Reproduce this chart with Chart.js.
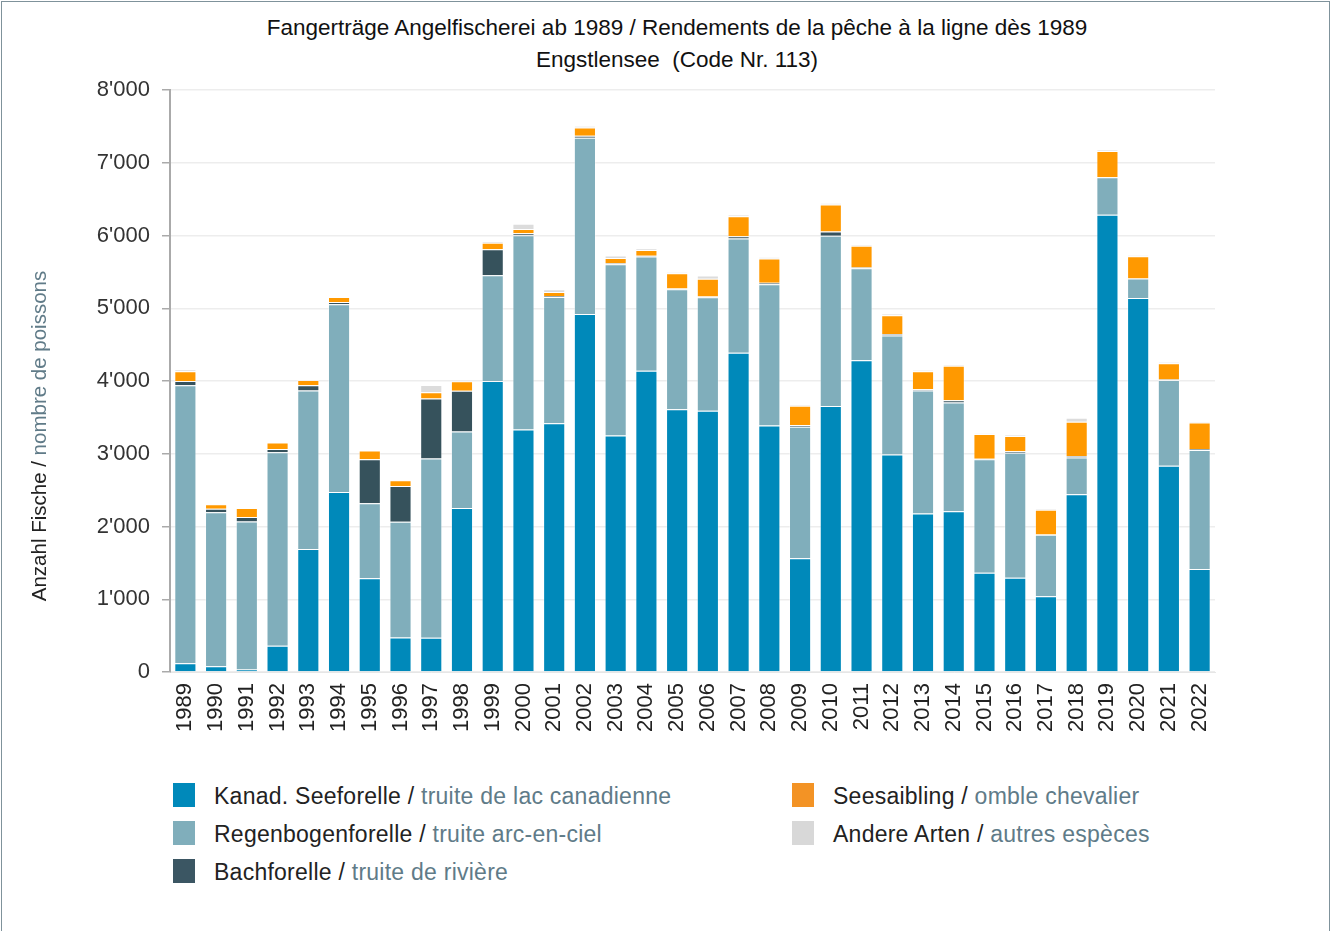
<!DOCTYPE html>
<html>
<head>
<meta charset="utf-8">
<script src="https://cdn.jsdelivr.net/npm/chart.js@4/dist/chart.umd.min.js"></script>
<style>
  body { margin: 0; background: #fff; font-family: "Liberation Sans", Arial, sans-serif; }
  #frame { position: absolute; left: 1px; top: 1px; width: 1329px; height: 960px; border: 1px solid #7f929b; box-sizing: border-box; }
  #wrap { position: absolute; left: 0; top: 0; width: 1333px; height: 760px; }
  .title { position: absolute; left: 0; width: 1354px; text-align: center; font-size: 22.5px; color: #111; }
  .leg { position: absolute; font-size: 23px; letter-spacing: 0.25px; color: #222; white-space: nowrap; }
  .leg span.sw { position: absolute; left: -41px; top: 0px; width: 22px; height: 24px; }
  .fr { color: #607b88; }
</style>
</head>
<body>
<div id="frame"></div>
<div class="title" style="top:15px">Fangerträge Angelfischerei ab 1989 / Rendements de la pêche à la ligne dès 1989</div>
<div class="title" style="top:47px">Engstlensee&nbsp; (Code Nr. 113)</div>
<div id="wrap"><canvas id="chart" width="1333" height="760"></canvas></div>

<div class="leg" style="left:214px; top:783px"><span class="sw" style="background:#0089ba"></span>Kanad. Seeforelle / <span class="fr">truite de lac canadienne</span></div>
<div class="leg" style="left:214px; top:821px"><span class="sw" style="background:#80aebb"></span>Regenbogenforelle / <span class="fr">truite arc-en-ciel</span></div>
<div class="leg" style="left:214px; top:859px"><span class="sw" style="background:#3b5663"></span>Bachforelle / <span class="fr">truite de rivière</span></div>
<div class="leg" style="left:833px; top:783px"><span class="sw" style="background:#f39325"></span>Seesaibling / <span class="fr">omble chevalier</span></div>
<div class="leg" style="left:833px; top:821px"><span class="sw" style="background:#d8d8d8"></span>Andere Arten / <span class="fr">autres espèces</span></div>

<script>
const years = ["1989","1990","1991","1992","1993","1994","1995","1996","1997","1998",
  "1999","2000","2001","2002","2003","2004","2005","2006","2007","2008",
  "2009","2010","2011","2012","2013","2014","2015","2016","2017","2018",
  "2019","2020","2021","2022"];

const kanadSeeforelle = [120, 80, 35, 360, 1690, 2475, 1290, 475, 470, 2255,
  4000, 3335, 3420, 4920, 3250, 4140, 3610, 3590, 4390, 3390,
  1565, 3655, 4285, 2990, 2180, 2210, 1365, 1295, 1040, 2445,
  6285, 5140, 2835, 1415];
const regenbogenforelle = [3820, 2115, 2035, 2660, 2180, 2580, 1030, 1590, 2465, 1050,
  1455, 2670, 1735, 2425, 2355, 1570, 1650, 1560, 1570, 1940,
  1805, 2340, 1265, 1635, 1690, 1495, 1560, 1720, 845, 505,
  515, 270, 1180, 1635];
const bachforelle = [60, 50, 60, 45, 70, 30, 605, 490, 825, 560,
  355, 25, 15, 25, 15, 10, 10, 10, 30, 20,
  25, 60, 10, 20, 15, 30, 5, 20, 5, 20,
  0, 0, 5, 15];
const seesaibling = [135, 60, 125, 90, 75, 70, 120, 80, 85, 130,
  90, 60, 55, 115, 70, 80, 210, 245, 275, 335,
  265, 370, 300, 260, 250, 475, 340, 210, 340, 470,
  360, 305, 225, 365];
const andereArten = [25, 10, 0, 0, 0, 0, 0, 10, 100, 0,
  20, 70, 35, 20, 35, 20, 15, 45, 20, 15,
  15, 20, 15, 15, 15, 15, 10, 15, 15, 55,
  15, 15, 15, 15];

const yTicks = [0, 1000, 2000, 3000, 4000, 5000, 6000, 7000, 8000];

const fmt = v => v === 0 ? "0" : Math.floor(v / 1000) + "'" + String(v % 1000).padStart(3, "0");

// y-axis title in two colours
const yTitle = {
  id: "yTitle",
  afterDraw(chart) {
    const ctx = chart.ctx;
    ctx.save();
    ctx.translate(40, 436);
    ctx.rotate(-Math.PI / 2);
    ctx.font = '20.5px "Liberation Sans", Arial, sans-serif';
    ctx.textBaseline = "middle";
    const a = "Anzahl Fische / ", b = "nombre de poissons";
    const wa = ctx.measureText(a).width, wb = ctx.measureText(b).width;
    let x = -(wa + wb) / 2;
    ctx.fillStyle = "#222";
    ctx.fillText(a, x, 0);
    ctx.fillStyle = "#607b88";
    ctx.fillText(b, x + wa, 0);
    ctx.restore();
  }
};

const ds = (label, data, color) => ({
  label, data, backgroundColor: color,
  borderColor: "rgba(255,255,255,0.35)", borderWidth: 1,
  barPercentage: 0.72, categoryPercentage: 1
});

new Chart(document.getElementById("chart"), {
  type: "bar",
  data: {
    labels: years,
    datasets: [
      ds("Kanad. Seeforelle", kanadSeeforelle, "#0089ba"),
      ds("Regenbogenforelle", regenbogenforelle, "#80aebb"),
      ds("Bachforelle", bachforelle, "#36525c"),
      ds("Seesaibling", seesaibling, "#ff9900"),
      ds("Andere Arten", andereArten, "#dcdcdc")
    ]
  },
  options: {
    responsive: false,
    animation: false,
    layout: { padding: { top: 90, right: 118, left: 0, bottom: 0 } },
    plugins: { legend: { display: false }, tooltip: { enabled: false } },
    scales: {
      x: {
        stacked: true,
        grid: { display: false },
        border: { color: "#e6e6e6" },
        ticks: {
          color: "#222", minRotation: 90, maxRotation: 90, padding: 3,
          font: { family: '"Liberation Sans", Arial, sans-serif', size: 22 }
        },
        afterFit: s => { s.height = 88; }
      },
      y: {
        stacked: true,
        min: 0, max: 8000,
        afterBuildTicks: s => { s.ticks = yTicks.map(v => ({ value: v })); },
        grid: { color: "#ededed", tickColor: "#aaaaaa", tickLength: 8, lineWidth: 1.5 },
        border: { color: "#aaaaaa", width: 2 },
        ticks: {
          color: "#333", padding: 12,
          font: { family: '"Liberation Sans", Arial, sans-serif', size: 22 },
          callback: v => fmt(v)
        },
        afterFit: s => { s.width = 170; }
      }
    }
  },
  plugins: [yTitle]
});
</script>
</body>
</html>
